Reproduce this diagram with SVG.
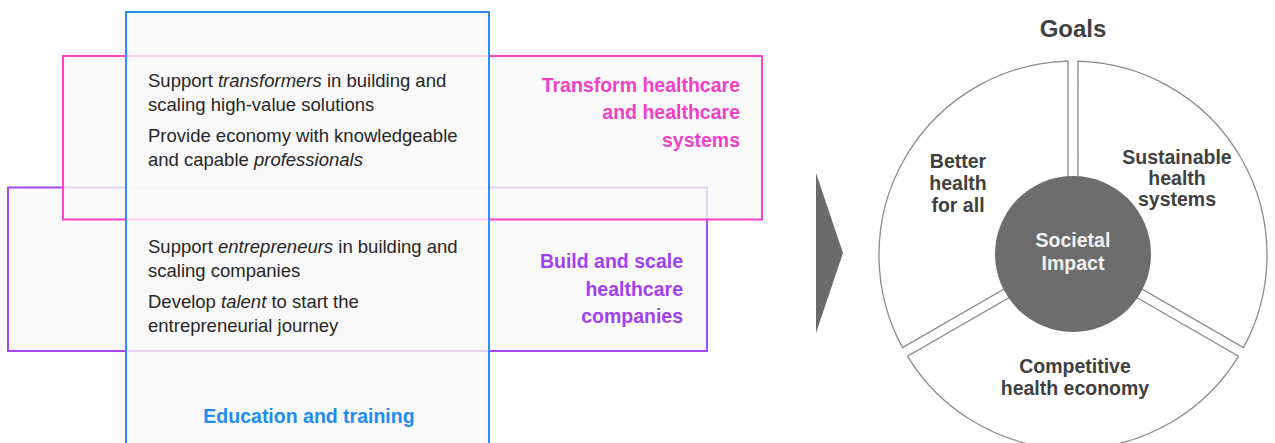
<svg xmlns="http://www.w3.org/2000/svg" width="1275" height="443" viewBox="0 0 1275 443">
<style>
.box{fill:#f9f9f9;fill-opacity:0.78;stroke-width:2}
.body{font-family:"Liberation Sans",Arial,sans-serif;font-size:18.5px;fill:#262626}
.lbl{font-family:"Liberation Sans",Arial,sans-serif;font-size:19.5px;font-weight:bold}
.g{font-family:"Liberation Sans",Arial,sans-serif;font-size:19.5px;font-weight:bold;fill:#404040;text-anchor:middle}
.seg{fill:#ffffff;stroke:#8a8a8a;stroke-width:1.3}
</style>
<rect width="1275" height="443" fill="#ffffff"/>
<g id="build">
<rect class="box" x="8" y="187.5" width="699" height="163.5" stroke="#a448f5"/>
</g>
<g id="transform">
<rect class="box" x="63" y="56" width="699" height="163.5" stroke="#ff40c8"/>
</g>
<g id="education">
<rect class="box" x="126" y="12" width="363" height="440" stroke="#2f8ef3"/>
<text class="lbl" x="309" y="423" text-anchor="middle" fill="#1f8cf0">Education and training</text>
</g>
<g id="transform-label">
<text class="lbl" text-anchor="end" fill="#f040c8"><tspan x="740" y="92">Transform healthcare</tspan><tspan x="740" y="119">and healthcare</tspan><tspan x="740" y="147">systems</tspan></text>
</g>
<g id="build-label">
<text class="lbl" text-anchor="end" fill="#a040f0"><tspan x="683" y="268">Build and scale</tspan><tspan x="683" y="296">healthcare</tspan><tspan x="683" y="323">companies</tspan></text>
</g>
<g id="transform-text">
<text class="body" x="148" y="87">Support <tspan font-style="italic">transformers</tspan> in building and</text>
<text class="body" x="148" y="111">scaling high-value solutions</text>
<text class="body" x="148" y="142">Provide economy with knowledgeable</text>
<text class="body" x="148" y="166">and capable <tspan font-style="italic">professionals</tspan></text>
</g>
<g id="build-text">
<text class="body" x="148" y="253">Support <tspan font-style="italic">entrepreneurs</tspan> in building and</text>
<text class="body" x="148" y="277">scaling companies</text>
<text class="body" x="148" y="308">Develop <tspan font-style="italic">talent</tspan> to start the</text>
<text class="body" x="148" y="332">entrepreneurial journey</text>
</g>
<g id="connectors">
<polygon points="816,173 843,253 816,333" fill="#6b6b6b"/>
</g>
<g id="goals-title">
<text x="1073" y="37" font-family="Liberation Sans, Arial, sans-serif" font-size="24" font-weight="bold" fill="#404040" text-anchor="middle">Goals</text>
</g>
<g id="better-health">
<path class="seg" d="M1068 252.1 L902.55 347.64 A194 194 0 0 1 1068 61.06 Z"/>
<text class="g"><tspan x="958" y="168">Better</tspan><tspan x="958" y="190">health</tspan><tspan x="958" y="212">for all</tspan></text>
</g>
<g id="sustainable">
<path class="seg" d="M1078 252.1 L1078 61.06 A194 194 0 0 1 1243.45 347.64 Z"/>
<text class="g"><tspan x="1177" y="164">Sustainable</tspan><tspan x="1177" y="185">health</tspan><tspan x="1177" y="206">systems</tspan></text>
</g>
<g id="competitive">
<path class="seg" d="M1073 260.77 L1238.45 356.3 A194 194 0 0 1 907.55 356.3 Z"/>
<text class="g"><tspan x="1075" y="373">Competitive</tspan><tspan x="1075" y="395">health economy</tspan></text>
</g>
<g id="societal-impact">
<circle cx="1073" cy="254" r="78" fill="#6d6d6d"/>
<text class="g" style="fill:#f2f2f2"><tspan x="1073" y="247">Societal</tspan><tspan x="1073" y="270">Impact</tspan></text>
</g>
</svg>
